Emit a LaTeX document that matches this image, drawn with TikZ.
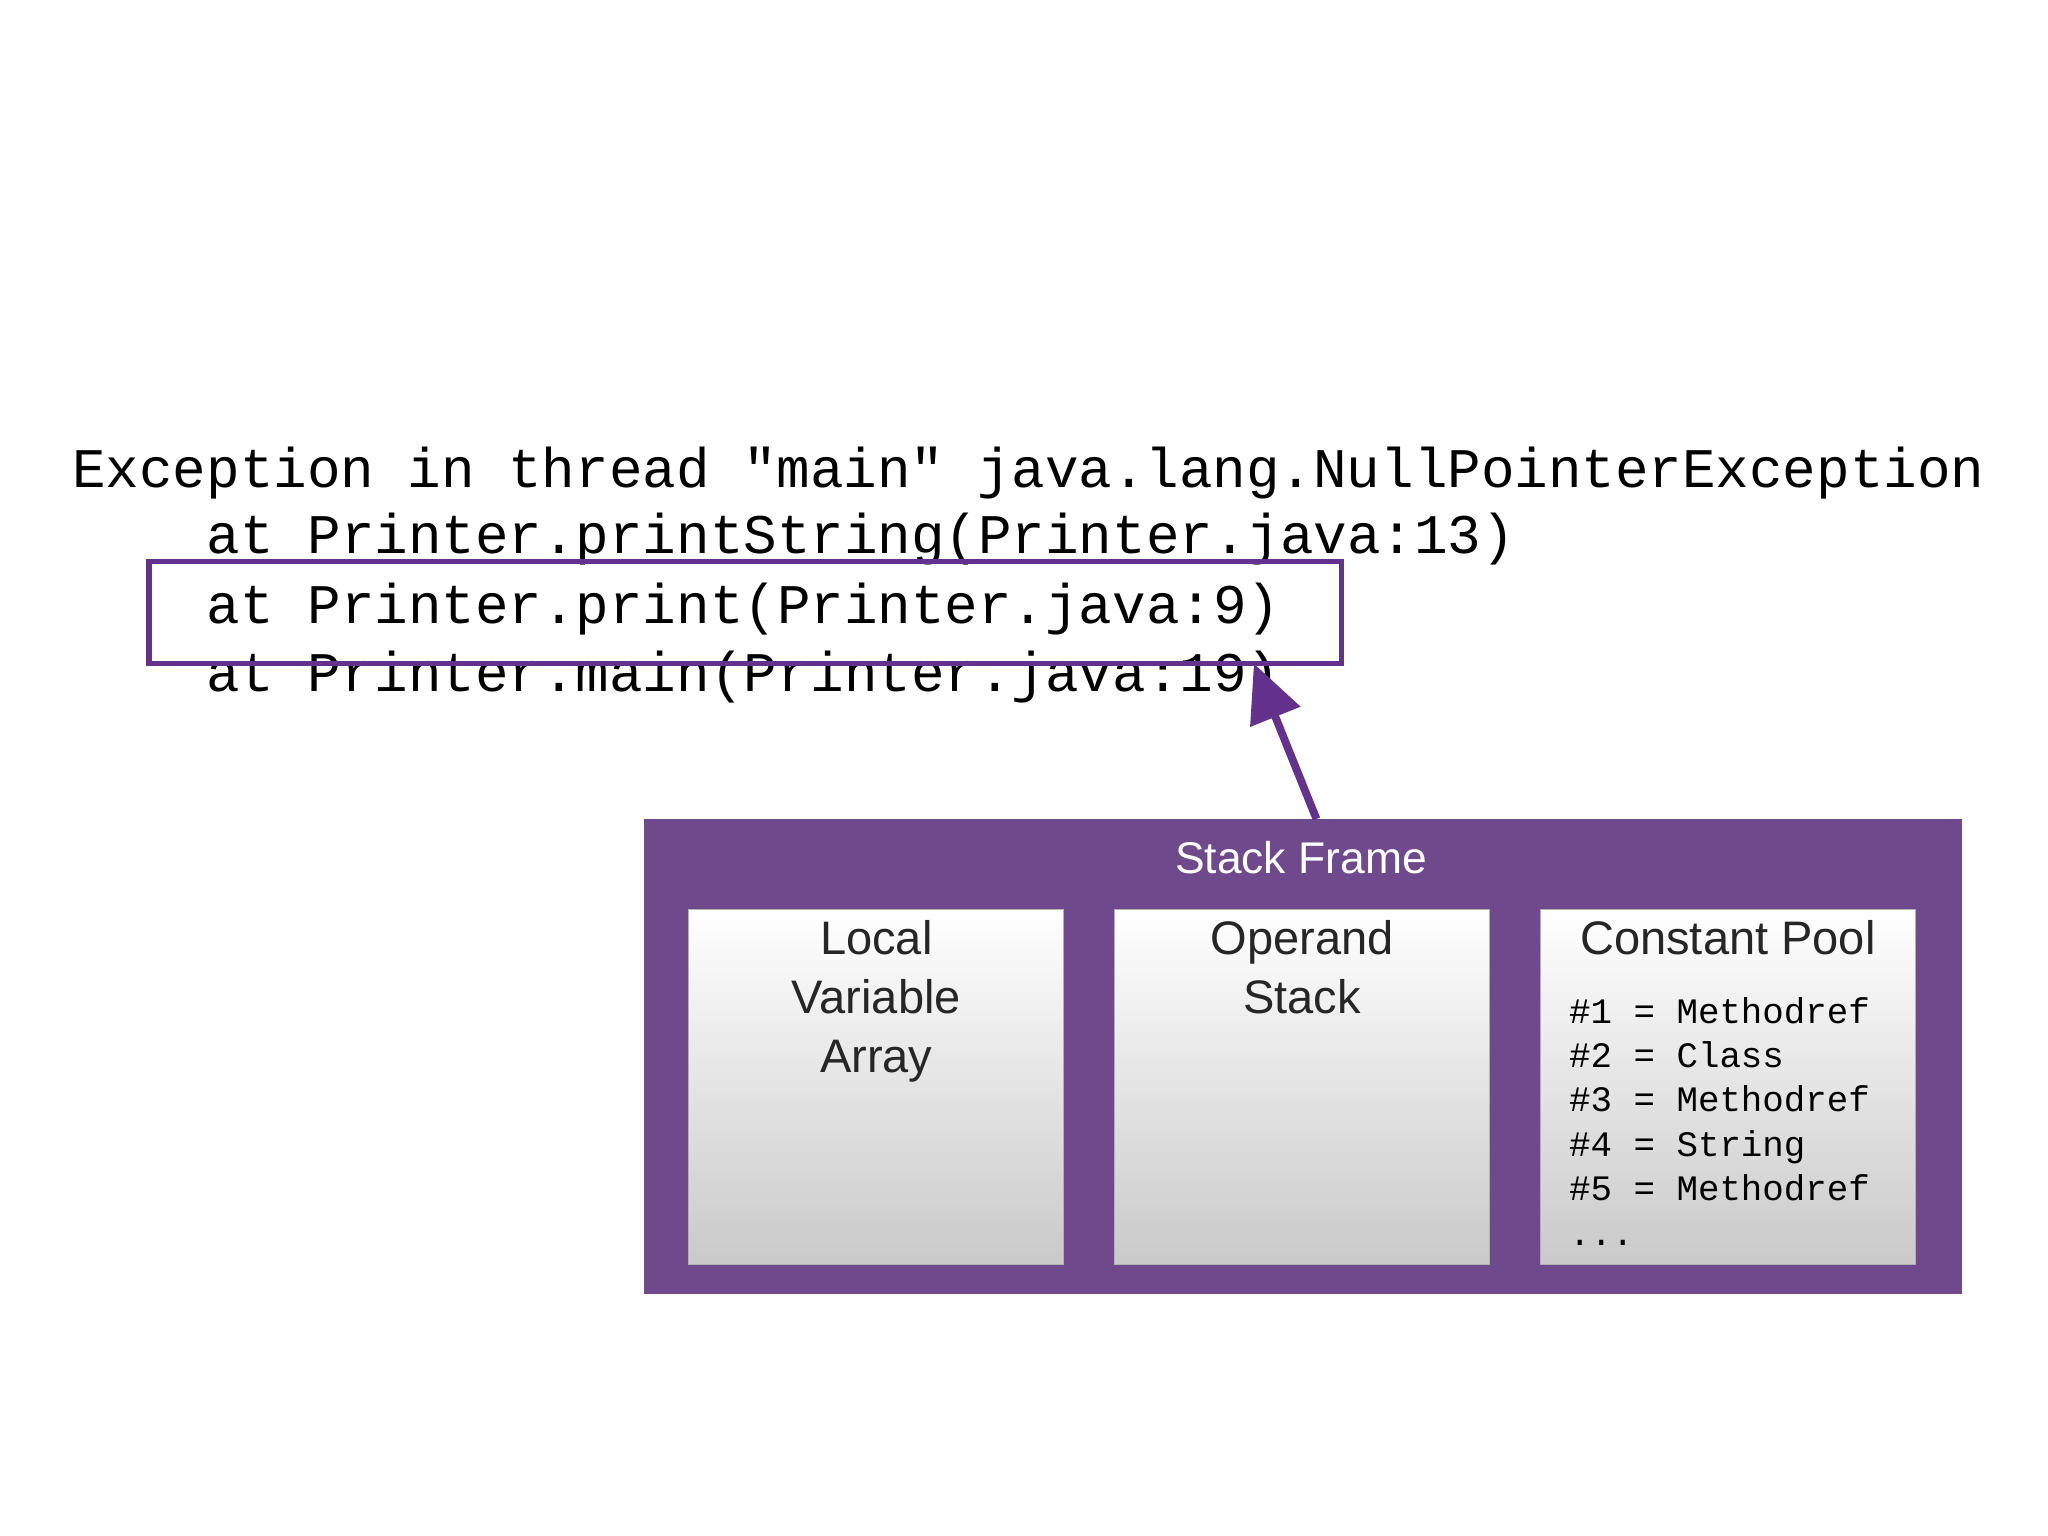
\documentclass[tikz,border=0pt]{standalone}
\usepackage{fontspec}
\setmonofont{Liberation Mono}
\setsansfont{Liberation Sans}
\usetikzlibrary{positioning,arrows.meta}
\definecolor{framecol}{RGB}{110,74,140}
\definecolor{markcol}{RGB}{100,50,140}
\tikzstyle{code} = [anchor=west, inner sep=0pt, font=\ttfamily\fontsize{21.4}{26}\selectfont]
\tikzstyle{part} = [draw=gray!60, top color=white, bottom color=gray!42, minimum width=143.5pt, minimum height=136pt, anchor=north west, inner sep=0pt]
\tikzstyle{title} = [font=\sffamily\fontsize{18}{22.5}\selectfont, align=center, text=black!85]
\tikzstyle{pool} = [anchor=north west, align=left, inner sep=0pt, font=\ttfamily\fontsize{13.7}{17}\selectfont]
\begin{document}
\begin{tikzpicture}[x=0.5pt,y=-0.5pt]
    \useasboundingbox[fill=white] (0,0) rectangle (1568,1176);
    % stack trace
    \node[code] (exc) at (55,362) {Exception in thread "main" java.lang.NullPointerException};
    \node[code] (l1) at (158,413) {at Printer.printString(Printer.java:13)};
    \node[code] (l2) at (158,466) {at Printer.print(Printer.java:9)};
    \node[code] (l3) at (158,518) {at Printer.main(Printer.java:19)};
    \node[draw=markcol, line width=2pt, minimum width=456.5pt, minimum height=39pt, anchor=north west, inner sep=0pt] (hl) at (112,428) {};
    % frame
    \node[fill=framecol, minimum width=504.5pt, minimum height=181.5pt, anchor=north west, inner sep=0pt] (frame) at (493,627) {};
    \node[font=\sffamily\fontsize{17}{20}\selectfont, text=white] (ftitle) at (996,657) {Stack Frame};
    \node[part] (lva) at (527,696) {};
    \node[part] (ops) at (853,696) {};
    \node[part] (cp) at (1179,696) {};
    \node[title, below=1pt of lva.north] {Local\\Variable\\Array};
    \node[title, below=1pt of ops.north] {Operand\\Stack};
    \node[title, below=1pt of cp.north] (cptitle) {Constant Pool};
    \node[pool] (entries) at (1201,763) {\#1 = Methodref\\\#2 = Class\\\#3 = Methodref\\\#4 = String\\\#5 = Methodref\\...};
    % arrow
    \coordinate (tip) at (960,508);
    \draw[markcol, line width=3pt, -{Triangle[length=22pt,width=20pt]}] ([xshift=5pt]frame.north) -- (tip);
\end{tikzpicture}
\end{document}
